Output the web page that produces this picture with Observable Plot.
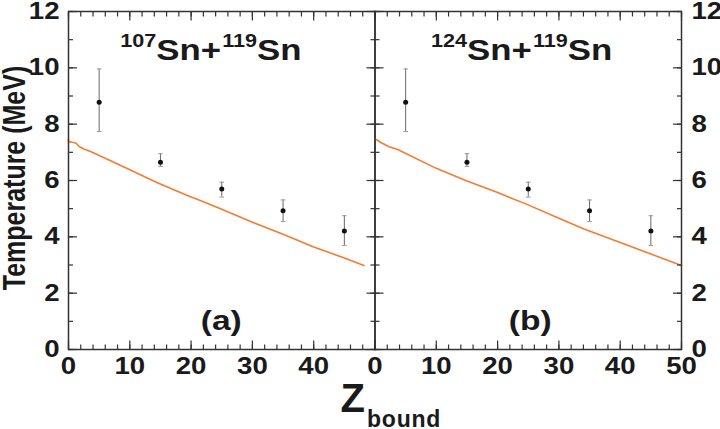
<!DOCTYPE html>
<html><head><meta charset="utf-8">
<script src="https://cdn.jsdelivr.net/npm/d3@7"></script>
<script src="https://cdn.jsdelivr.net/npm/@observablehq/plot@0.6"></script>
<style>
body{margin:0;background:#fff;}
#chart{position:relative;width:720px;height:429px;}
#chart svg{position:absolute;left:0;top:0;}
</style></head><body><div id="chart"></div>
<script>
// ---- data ----
const zBound = [5, 15, 25, 35, 45];
const tempA = [8.78, 6.65, 5.70, 4.93, 4.21];
const errLoA = [7.74, 6.50, 5.41, 4.54, 3.69];
const errHiA = [9.96, 6.95, 5.94, 5.31, 4.75];
const tempB = [8.78, 6.65, 5.70, 4.93, 4.21];
const errLoB = [7.74, 6.50, 5.41, 4.54, 3.69];
const errHiB = [9.96, 6.95, 5.94, 5.31, 4.75];

const modelZA = [0, 0, 0.6, 1.2, 1.8, 2.5, 3.6, 7.4, 10, 14.5, 19.4, 21.5, 25, 30, 35, 40, 45, 48.2];
const modelTA = [7.47, 7.38, 7.36, 7.33, 7.20, 7.12, 7.03, 6.65, 6.38, 5.92, 5.47, 5.29, 4.98, 4.52, 4.09, 3.64, 3.25, 2.98];
const modelZB = [0, 0.5, 1, 1.6, 2.3, 3.7, 9.9, 14.8, 20, 24.6, 30, 34.1, 40, 45, 50];
const modelTB = [7.47, 7.42, 7.34, 7.28, 7.20, 7.10, 6.44, 6.00, 5.57, 5.17, 4.66, 4.28, 3.80, 3.39, 2.98];

const xTicksA = [0, 10, 20, 30, 40];
const xTicksB = [0, 10, 20, 30, 40, 50];
const xMajor = [0, 10, 20, 30, 40, 50];
const xMinor = d3.range(0, 51, 2);
const yTicks = [0, 2, 4, 6, 8, 10, 12];
const yMinor = d3.range(0, 13, 1);

const titleA = ["107", "Sn+", "119", "Sn"];
const titleB = ["124", "Sn+", "119", "Sn"];
const panelLabels = ["(a)", "(b)"];
const yLabel = "Temperature (MeV)";
const xLabelMain = "Z", xLabelSub = "bound";

// ---- helpers ----
const FONT = "'Liberation Sans', Arial, Helvetica, sans-serif";
const cap = {draw(ctx, size) { const r = Math.sqrt(size / Math.PI); ctx.moveTo(-r, 0); ctx.lineTo(r, 0); }};
const tk = {stroke: "#333", strokeWidth: 1.2, fill: "none", label: null};

function panel(o) {
  const pts = o.z.map((z, i) => ({z, t: o.t[i], lo: o.lo[i], hi: o.hi[i]}));
  const model = o.mz.map((z, i) => ({z, t: o.mt[i]}));
  return Plot.plot({
    width: 720, height: 429,
    marginLeft: o.ml, marginRight: o.mr, marginTop: 11, marginBottom: 80,
    x: {domain: [0, 50]}, y: {domain: [0, 12]},
    style: {background: "none", fontFamily: FONT, fontWeight: "bold", fontSize: "23px", color: "#1a1a1a", overflow: "visible"},
    marks: [
      Plot.line(model, {x: "z", y: "t", stroke: "#f47b31", strokeWidth: 1.6}),
      Plot.ruleX(pts, {x: "z", y1: "lo", y2: "hi", stroke: "#6a6a6a", strokeWidth: 1}),
      Plot.dot(pts, {x: "z", y: "lo", symbol: cap, r: 2.3, stroke: "#999", fill: "none", strokeWidth: 1}),
      Plot.dot(pts, {x: "z", y: "hi", symbol: cap, r: 2.3, stroke: "#999", fill: "none", strokeWidth: 1}),
      Plot.dot(pts, {x: "z", y: "t", r: 2.5, fill: "#111", stroke: null}),
      Plot.axisX(xMinor, {anchor: "bottom", tickSize: -4.5, ...tk}),
      Plot.axisX(xMajor, {anchor: "bottom", tickSize: -8.5, ...tk}),
      Plot.axisX(xMinor, {anchor: "top", tickSize: -4.5, ...tk}),
      Plot.axisX(xMajor, {anchor: "top", tickSize: -8.5, ...tk}),
      Plot.axisY(yMinor, {anchor: "left", tickSize: -5, ...tk}),
      Plot.axisY(yTicks, {anchor: "left", tickSize: -9, ...tk}),
      Plot.axisY(yMinor, {anchor: "right", tickSize: -5, ...tk}),
      Plot.axisY(yTicks, {anchor: "right", tickSize: -9, ...tk}),
      Plot.axisX(o.xLabels, {anchor: "bottom", tickSize: 0, tickPadding: 8, label: null}),
      Plot.axisY(yTicks, {anchor: o.yAnchor, tickSize: 0, tickPadding: o.yPad, label: null}),
      Plot.frame({stroke: "#333", strokeWidth: 1.5})
    ]
  });
}

function stretchTicks(svg, s) {
  d3.select(svg).selectAll('g[aria-label$="tick label"] text').each(function() {
    const t = this.getAttribute("transform") || "";
    this.setAttribute("transform", `${t} scale(${s},1)`);
  });
}

function addTitle(svg, parts, cx, cy, label, lx, ly) {
  const X = svg.scale("x"), Y = svg.scale("y");
  const t = d3.select(svg).append("text")
    .attr("transform", `translate(${X.apply(cx)},${Y.apply(cy)}) scale(1.2,1)`)
    .attr("text-anchor", "middle").attr("font-family", FONT).attr("font-weight", "bold").attr("fill", "#1a1a1a");
  t.append("tspan").attr("font-size", 18).attr("dy", -13).text(parts[0]);
  t.append("tspan").attr("font-size", 29).attr("dy", 13).text(parts[1]);
  t.append("tspan").attr("font-size", 18).attr("dy", -13).attr("dx", 1).text(parts[2]);
  t.append("tspan").attr("font-size", 29).attr("dy", 13).text(parts[3]);
  d3.select(svg).append("text")
    .attr("transform", `translate(${X.apply(lx)},${Y.apply(ly)}) scale(1.2,1)`)
    .attr("text-anchor", "middle").attr("font-family", FONT).attr("font-weight", "bold")
    .attr("font-size", 28).attr("fill", "#1a1a1a").text(label);
}

const chart = document.getElementById("chart");
const A = panel({z: zBound, t: tempA, lo: errLoA, hi: errHiA, mz: modelZA, mt: modelTA,
  ml: 68, mr: 720 - 374.5, xLabels: xTicksA, yAnchor: "left", yPad: 9});
const B = panel({z: zBound, t: tempB, lo: errLoB, hi: errHiB, mz: modelZB, mt: modelTB,
  ml: 374.5, mr: 39, xLabels: xTicksB, yAnchor: "right", yPad: 10});
chart.appendChild(A); chart.appendChild(B);
stretchTicks(A, 1.2); stretchTicks(B, 1.2);

addTitle(A, titleA, 23.3, 10.26, panelLabels[0], 25, 0.69);
addTitle(B, titleB, 24.0, 10.26, panelLabels[1], 25.4, 0.69);

// y label
{
  const X = A.scale("x"), Y = A.scale("y");
  d3.select(A).append("text")
    .attr("transform", `translate(${X.apply(0) - 43},${Y.apply(6) - 2}) rotate(-90) scale(1,1.25)`)
    .attr("text-anchor", "middle").attr("font-family", FONT).attr("font-weight", "bold")
    .attr("font-size", 25).attr("fill", "#1a1a1a").text(yLabel);
  // x label
  const t = d3.select(B).append("text")
    .attr("transform", `translate(${X.apply(50) - 34},${Y.apply(0) + 63})`)
    .attr("text-anchor", "start").attr("font-family", FONT).attr("font-weight", "bold").attr("fill", "#1a1a1a");
  t.append("tspan").attr("font-size", 40).text(xLabelMain);
  t.append("tspan").attr("font-size", 23).attr("dy", 15).attr("dx", 2).attr("letter-spacing", 0.8).text(xLabelSub);
}
</script></body></html>
